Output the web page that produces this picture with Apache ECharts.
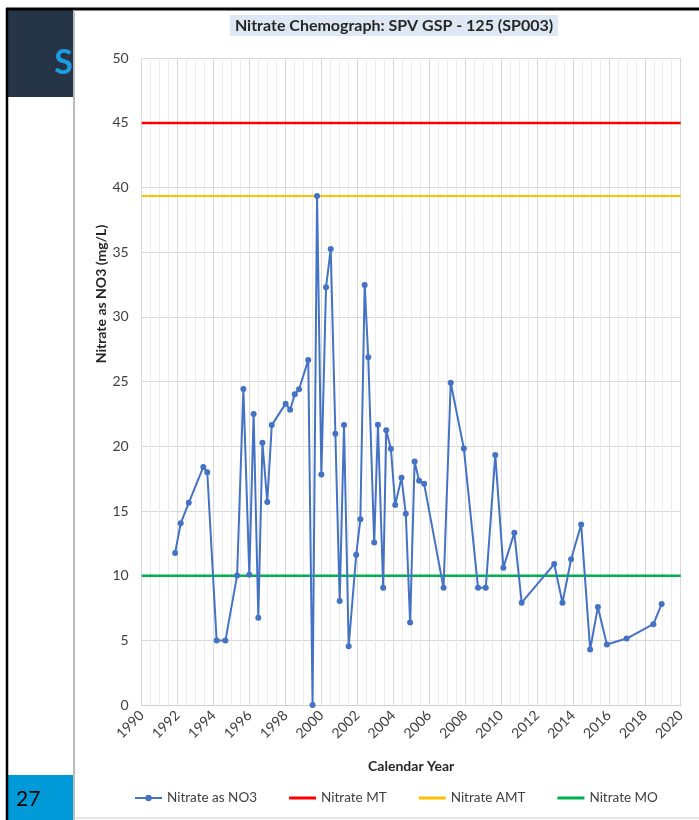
<!DOCTYPE html>
<html><head><meta charset="utf-8">
<script src="https://cdn.jsdelivr.net/npm/echarts@6/dist/echarts.min.js"></script>
<style>html,body{margin:0;padding:0;background:#fff}#c{width:699px;height:820px}</style>
</head><body><div id="c"></div>
<script>
// Sample dates (decimal calendar years) and nitrate values (mg/L as NO3)
const sampleYears = [1991.86,1992.17,1992.62,1993.43,1993.65,1994.17,1994.66,1995.31,1995.66,1995.99,
  1996.23,1996.49,1996.72,1996.99,1997.24,1998.01,1998.26,1998.52,1998.76,1999.27,
  1999.51,1999.76,2000.00,2000.26,2000.52,2000.78,2001.02,2001.26,2001.52,2001.94,
  2002.17,2002.41,2002.61,2002.94,2003.15,2003.44,2003.61,2003.87,2004.11,2004.46,
  2004.70,2004.94,2005.19,2005.44,2005.72,2006.80,2007.20,2007.93,2008.72,2009.15,
  2009.68,2010.13,2010.74,2011.15,2012.96,2013.42,2013.90,2014.46,2014.96,2015.39,
  2015.89,2016.99,2018.48,2018.94];
const nitrateValues = [11.75,14.05,15.63,18.41,18.0,4.98,4.98,10.02,24.43,10.07,
  22.49,6.74,20.27,15.70,21.64,23.30,22.83,24.02,24.41,26.68,
  0,39.35,17.83,32.30,35.25,20.97,8.04,21.64,4.54,11.62,
  14.36,32.48,26.89,12.56,21.67,9.06,21.25,19.82,15.46,17.57,
  14.78,6.37,18.83,17.34,17.10,9.06,24.91,19.84,9.06,9.06,
  19.32,10.62,13.31,7.91,10.90,7.91,11.27,13.95,4.29,7.57,
  4.68,5.14,6.25,7.80];
const thresholdSpan = [1990, 2020];
const nitrateMT = 45;
const nitrateAMT = 39.35;
const nitrateMO = 10;
const seriesNames = ['Nitrate as NO3','Nitrate MT','Nitrate AMT','Nitrate MO'];
const titleText = 'Nitrate Chemograph: SPV GSP - 125 (SP003)';
const pageNumber = '27';

const FONT = 'Lato';
const chart = echarts.init(document.getElementById('c'), null, {renderer:'canvas'});
const pairs = sampleYears.map((y,i)=>[y, nitrateValues[i]]);
const hline = v => thresholdSpan.map(x=>[x, v]);
const barIcon = 'path://M0,0 L27,0 L27,3 L0,3 Z';

chart.setOption({
  animation:false,
  textStyle:{fontFamily:FONT},
  title:{
    text:titleText, left:389, top:15, textAlign:'center',
    backgroundColor:'#dde8f4', padding:[3,5,2,5],
    textStyle:{fontFamily:FONT, fontSize:16, fontWeight:'bold', color:'#262626'}
  },
  grid:{left:141.7, right:18.3, top:58.3, bottom:115, containLabel:false},
  xAxis:{
    type:'value', min:1990, max:2020, interval:2,
    name:'Calendar Year', nameLocation:'middle', nameGap:54,
    nameTextStyle:{fontFamily:FONT, fontSize:14, fontWeight:'bold', color:'#262626'},
    axisLine:{show:true, lineStyle:{color:'#d0d0d0', width:1}},
    axisTick:{show:false},
    axisLabel:{rotate:45, fontSize:14, color:'#404040', margin:8, fontFamily:FONT,
      formatter: v => String(v)},
    splitLine:{show:true, lineStyle:{color:'#d9d9d9', width:1}},
    minorTick:{show:true, splitNumber:4, length:0, lineStyle:{width:0}},
    minorSplitLine:{show:true, lineStyle:{color:'#ececec', width:1}}
  },
  yAxis:{
    type:'value', min:0, max:50, interval:5,
    axisLine:{show:false}, axisTick:{show:false},
    axisLabel:{fontSize:14, color:'#404040', margin:13, fontFamily:FONT},
    splitLine:{show:true, lineStyle:{color:'#d9d9d9', width:1}}
  },
  legend:{
    left:134, top:791, padding:0, itemWidth:27, itemHeight:8, itemGap:32,
    textStyle:{fontFamily:FONT, fontSize:13.5, color:'#404040'},
    data:[
      {name:seriesNames[0]},
      {name:seriesNames[1], icon:barIcon},
      {name:seriesNames[2], icon:barIcon},
      {name:seriesNames[3], icon:barIcon}
    ]
  },
  series:[
    {name:seriesNames[0], type:'line', data:pairs, symbol:'circle', symbolSize:6,
     lineStyle:{color:'#4472c4', width:2}, itemStyle:{color:'#4472c4'}, z:5},
    {name:seriesNames[1], type:'line', data:hline(nitrateMT), symbol:'none',
     lineStyle:{color:'#ff0000', width:2.5}, itemStyle:{color:'#ff0000'}},
    {name:seriesNames[2], type:'line', data:hline(nitrateAMT), symbol:'none',
     lineStyle:{color:'#ffc000', width:2}, itemStyle:{color:'#ffc000'}},
    {name:seriesNames[3], type:'line', data:hline(nitrateMO), symbol:'none',
     lineStyle:{color:'#00b050', width:2.5}, itemStyle:{color:'#00b050'}}
  ],
  graphic:[
    {type:'rect', shape:{x:6,y:8,width:67,height:89}, style:{fill:'#253446'}, z:10},
    {type:'text', x:73, y:63, style:{text:'S', fill:'#1b9de2', font:'bold 34px '+FONT, align:'right', verticalAlign:'middle'}, z:11},
    {type:'rect', shape:{x:6,y:775,width:67,height:45}, style:{fill:'#009ad9'}, z:10},
    {type:'text', x:16, y:799, style:{text:pageNumber, fill:'#000', font:'21px '+FONT, align:'left', verticalAlign:'middle'}, z:11},
    {type:'line', shape:{x1:7,y1:8,x2:7,y2:820}, style:{stroke:'#000', lineWidth:2.5}, z:12},
    {type:'line', shape:{x1:6,y1:9,x2:699,y2:9}, style:{stroke:'#000', lineWidth:3}, z:12},
    {type:'line', shape:{x1:74,y1:10,x2:74,y2:820}, style:{stroke:'#a6a6a6', lineWidth:1.5}, z:12},
    {type:'line', shape:{x1:74,y1:818,x2:699,y2:818}, style:{stroke:'#d0d0d0', lineWidth:1}, z:12},
    {type:'text', x:101, y:294, rotation:Math.PI/2,
     style:{text:'Nitrate as NO3 (mg/L)', fill:'#262626', font:'bold 14px '+FONT, align:'center', verticalAlign:'middle'}, z:11}
  ]
});
</script></body></html>
